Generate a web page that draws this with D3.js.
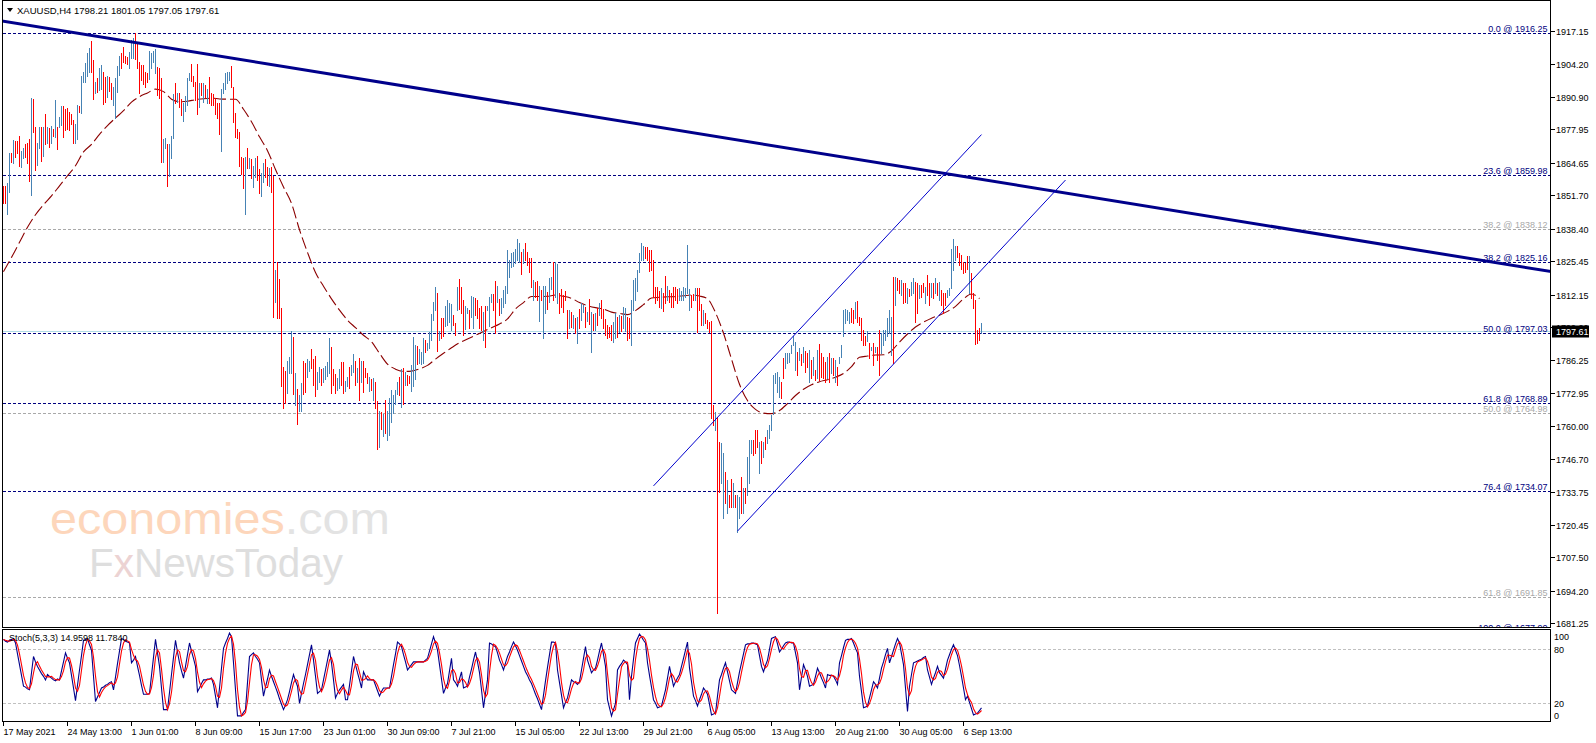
<!DOCTYPE html>
<html><head><meta charset="utf-8">
<script src="https://cdn.jsdelivr.net/npm/d3@7/dist/d3.min.js"></script>
<style>
html,body{margin:0;padding:0;background:#fff;}
svg{display:block;}
text{font-family:"Liberation Sans",Arial,sans-serif;}
</style></head><body>
<svg id="chart" width="1596" height="743"></svg>
<script>
// ---------------- DATA ----------------
const symbolTitle = "XAUUSD,H4  1798.21 1801.05 1797.05 1797.61";
const stochTitle = "Stoch(5,3,3) 14.9598 11.7840";

const highs = [
1855.4,1855.4,1856.5,1868.4,1868.4,1873.8,1873.5,1873.4,1875.4,1869.4,
1870.7,1872.2,1872.7,1874.0,1890.4,1890.1,1878.8,1872.7,1879.1,1879.1,
1878.8,1884.1,1878.8,1878.4,1879.3,1878.0,1889.7,1878.8,1882.8,1887.3,
1887.3,1886.0,1886.4,1885.0,1884.1,1881.7,1880.1,1887.7,1887.3,1899.2,
1900.7,1904.6,1908.3,1910.5,1913.2,1905.6,1897.0,1898.3,1902.3,1903.6,
1901.0,1898.7,1899.2,1899.0,1896.3,1895.0,1898.3,1903.2,1907.2,1908.3,
1910.9,1907.2,1906.9,1908.7,1913.6,1914.3,1916.2,1912.9,1905.0,1903.6,
1903.6,1901.0,1900.3,1909.0,1908.3,1909.0,1909.9,1903.0,1902.3,1898.3,
1874.0,1874.4,1872.2,1872.2,1875.4,1892.0,1896.6,1892.6,1892.6,1890.0,
1888.6,1891.3,1898.6,1900.3,1903.9,1899.2,1897.0,1903.9,1896.6,1896.3,
1896.3,1895.7,1894.1,1899.0,1892.4,1892.1,1890.4,1888.6,1888.4,1894.1,
1896.3,1900.3,1901.0,1901.0,1903.4,1895.0,1884.6,1878.2,1877.1,1866.9,
1866.5,1867.1,1870.4,1866.7,1866.0,1863.5,1866.5,1867.5,1862.0,1860.5,
1864.5,1866.0,1863.0,1862.5,1863.0,1859.5,1822.0,1825.3,1818.4,1806.8,
1783.5,1781.9,1785.8,1787.5,1797.5,1795.1,1781.1,1774.5,1772.2,1777.1,
1785.8,1785.1,1786.6,1785.9,1790.4,1786.4,1787.9,1781.5,1783.3,1782.5,
1782.9,1783.9,1785.5,1794.8,1791.5,1782.5,1780.5,1778.9,1782.6,1785.5,
1785.3,1777.8,1779.5,1783.5,1784.2,1788.6,1785.8,1783.1,1787.1,1785.8,
1785.8,1782.9,1780.9,1779.5,1778.5,1778.9,1777.5,1770.0,1766.0,1765.6,
1764.7,1770.2,1766.0,1770.9,1774.2,1772.2,1774.2,1777.5,1779.2,1782.5,
1782.9,1781.5,1780.2,1779.8,1784.2,1795.4,1792.1,1791.9,1790.4,1789.5,
1794.8,1794.1,1792.8,1797.1,1804.5,1809.4,1815.1,1813.0,1797.7,1802.8,
1802.8,1807.7,1810.1,1808.7,1808.5,1804.1,1800.8,1815.1,1818.3,1815.1,
1810.1,1807.7,1806.8,1806.1,1811.7,1811.4,1810.7,1810.1,1806.9,1807.7,
1805.4,1807.7,1807.7,1811.4,1812.5,1812.3,1817.4,1815.7,1810.3,1810.7,
1814.0,1815.6,1830.0,1826.0,1828.6,1829.3,1830.2,1834.2,1832.6,1829.3,
1830.2,1832.6,1829.0,1826.6,1826.6,1818.0,1817.3,1817.7,1815.7,1814.0,
1815.6,1815.6,1813.4,1818.7,1819.3,1825.3,1825.3,1824.4,1812.7,1814.3,
1812.0,1813.8,1806.1,1806.1,1805.4,1804.1,1802.7,1803.4,1806.5,1808.7,
1808.0,1807.4,1805.4,1810.3,1805.4,1804.5,1804.7,1806.7,1808.7,1810.0,
1806.3,1802.5,1800.1,1799.4,1800.1,1801.4,1804.7,1803.4,1804.1,1803.7,
1807.4,1806.7,1803.4,1802.7,1810.0,1818.0,1818.7,1822.0,1828.9,1832.6,
1831.5,1831.3,1831.3,1830.0,1830.0,1826.0,1815.1,1815.3,1813.8,1814.7,
1812.7,1819.6,1815.6,1814.0,1813.0,1815.3,1815.1,1814.3,1814.7,1813.8,
1815.1,1814.7,1832.0,1814.3,1812.0,1812.4,1814.7,1814.7,1814.7,1808.4,
1806.1,1804.7,1802.1,1801.4,1801.8,1768.2,1765.6,1763.6,1753.6,1753.0,
1749.0,1741.7,1738.4,1732.4,1738.6,1737.0,1732.4,1732.4,1731.7,1739.7,
1735.0,1735.0,1747.6,1754.3,1754.3,1754.3,1758.3,1758.3,1753.6,1754.0,
1753.6,1755.6,1758.3,1760.3,1764.2,1780.2,1780.8,1781.5,1779.5,1777.5,
1786.8,1788.8,1788.8,1789.1,1792.1,1795.7,1793.4,1789.5,1790.8,1788.5,
1791.5,1789.9,1788.8,1790.1,1786.1,1787.5,1782.2,1790.1,1792.5,1788.8,
1787.5,1785.5,1787.5,1788.8,1786.8,1786.8,1786.1,1783.5,1787.2,1792.1,
1806.1,1806.3,1806.1,1805.4,1806.7,1806.1,1809.4,1809.6,1803.4,1802.7,
1798.1,1795.5,1797.8,1792.8,1791.5,1792.8,1791.2,1791.5,1798.1,1796.8,
1798.1,1798.1,1802.7,1806.1,1803.4,1819.3,1819.3,1818.7,1818.0,1818.0,
1816.7,1816.7,1814.7,1814.3,1817.3,1818.7,1817.3,1816.7,1816.0,1816.0,
1816.7,1815.4,1820.0,1816.7,1816.7,1816.7,1818.7,1816.7,1817.3,1814.0,
1812.7,1812.7,1814.0,1814.7,1830.5,1834.3,1831.5,1831.5,1828.6,1828.0,
1825.3,1824.9,1827.5,1827.5,1820.9,1812.7,1810.0,1798.1,1798.8,1801.05
];

const lows = [
1848.5,1848.5,1844.2,1852.9,1865.1,1864.7,1867.1,1868.4,1863.4,1863.1,
1866.7,1867.1,1864.5,1857.4,1851.9,1877.0,1861.8,1863.8,1870.4,1865.5,
1867.4,1872.2,1872.4,1870.8,1872.7,1875.5,1875.1,1870.3,1879.1,1879.6,
1875.1,1877.7,1878.0,1877.7,1880.1,1872.7,1872.7,1874.2,1885.0,1884.6,
1897.0,1897.0,1899.2,1900.7,1900.7,1890.1,1892.6,1893.0,1893.7,1894.1,
1888.1,1889.0,1890.8,1893.3,1890.1,1887.7,1882.6,1893.0,1899.6,1902.6,
1904.7,1904.3,1904.0,1902.6,1906.3,1906.3,1905.9,1902.3,1892.6,1897.7,
1896.1,1895.0,1897.0,1897.9,1902.3,1905.0,1900.3,1891.7,1890.4,1865.1,
1865.1,1870.4,1855.6,1859.5,1866.5,1874.4,1888.4,1889.0,1887.0,1883.7,
1881.5,1885.4,1887.7,1897.7,1897.4,1895.4,1889.7,1884.0,1887.0,1891.7,
1889.0,1891.0,1888.4,1888.4,1887.7,1887.7,1884.1,1882.4,1876.2,1869.5,
1892.6,1894.0,1896.3,1897.7,1895.0,1881.0,1875.1,1874.4,1863.4,1860.2,
1854.5,1844.3,1862.5,1862.5,1858.5,1855.0,1859.0,1858.0,1852.5,1851.5,
1857.0,1859.0,1856.0,1855.5,1853.0,1803.4,1809.4,1802.8,1802.8,1775.6,
1766.9,1768.9,1772.9,1781.1,1780.9,1772.5,1768.3,1760.6,1766.0,1766.0,
1772.5,1773.3,1779.5,1781.9,1782.9,1776.2,1772.0,1774.6,1777.2,1776.0,
1777.2,1778.5,1779.8,1780.9,1772.9,1776.2,1772.9,1774.2,1774.9,1776.2,
1772.9,1773.6,1775.6,1774.9,1780.2,1781.5,1776.2,1777.2,1770.2,1777.5,
1773.2,1779.5,1776.9,1773.6,1774.2,1770.2,1766.9,1750.6,1751.4,1758.6,
1756.0,1756.9,1754.3,1756.3,1761.6,1764.9,1768.7,1772.6,1772.2,1767.6,
1768.7,1776.2,1776.2,1776.9,1773.9,1775.6,1778.6,1784.4,1784.9,1784.4,
1784.9,1789.5,1790.2,1790.8,1794.1,1802.1,1806.1,1789.9,1794.1,1794.8,
1795.5,1799.5,1800.1,1801.4,1798.1,1800.1,1796.1,1806.1,1806.4,1804.8,
1796.1,1798.4,1804.8,1798.8,1803.4,1798.8,1804.1,1802.8,1798.8,1798.1,
1794.1,1791.5,1806.1,1799.5,1809.4,1806.0,1796.8,1809.4,1804.0,1805.0,
1807.1,1809.0,1812.7,1819.3,1823.3,1823.6,1824.9,1826.0,1825.3,1820.4,
1824.9,1826.0,1824.0,1821.0,1815.3,1810.0,1811.4,1810.0,1801.8,1810.0,
1794.8,1804.7,1806.6,1809.4,1814.3,1810.0,1811.4,1808.7,1804.7,1807.4,
1805.4,1810.0,1794.8,1798.8,1799.4,1798.8,1796.8,1792.8,1798.8,1802.1,
1805.4,1799.4,1801.8,1800.5,1789.5,1798.1,1798.1,1800.1,1804.1,1802.7,
1798.8,1796.1,1794.8,1795.4,1794.1,1793.4,1794.8,1795.4,1797.4,1797.8,
1798.8,1797.8,1794.1,1794.8,1792.1,1806.1,1810.0,1813.8,1821.3,1826.0,
1826.0,1826.6,1826.0,1821.7,1822.0,1811.4,1808.7,1810.0,1807.1,1806.7,
1805.8,1808.7,1810.0,1809.4,1807.4,1807.4,1810.0,1808.7,1810.0,1810.0,
1810.0,1811.4,1812.7,1806.1,1807.4,1810.0,1810.0,1797.4,1806.1,1800.1,
1800.1,1800.7,1798.8,1797.4,1762.9,1760.3,1758.3,1685.5,1733.7,1737.0,
1723.1,1729.1,1725.1,1727.7,1727.7,1727.7,1727.7,1717.8,1723.1,1725.1,
1725.1,1729.1,1732.4,1737.0,1749.0,1748.3,1749.0,1751.6,1741.3,1745.0,
1747.4,1750.6,1753.0,1755.0,1758.3,1764.6,1776.9,1773.5,1771.5,1770.9,
1778.8,1782.8,1784.8,1785.5,1788.8,1792.1,1782.2,1780.2,1786.1,1784.1,
1785.5,1781.5,1783.5,1777.5,1778.8,1780.2,1778.2,1778.8,1778.2,1779.5,
1778.8,1777.5,1778.8,1777.5,1780.8,1780.2,1777.5,1776.2,1784.8,1787.5,
1795.5,1801.0,1802.1,1800.8,1801.4,1801.0,1802.7,1801.4,1800.1,1794.1,
1792.1,1792.1,1793.8,1786.8,1790.1,1784.1,1789.5,1786.1,1780.2,1788.8,
1792.1,1794.1,1795.5,1796.8,1788.1,1784.8,1808.0,1814.0,1812.7,1812.0,
1808.7,1809.4,1808.7,1811.6,1812.0,1812.7,1801.4,1804.7,1810.7,1811.4,
1813.4,1808.7,1812.0,1808.0,1811.4,1810.7,1812.7,1812.0,1810.0,1808.0,
1804.7,1808.0,1811.4,1812.0,1814.7,1822.0,1826.0,1827.3,1824.0,1822.2,
1820.9,1821.3,1822.2,1812.7,1810.7,1806.7,1792.5,1793.0,1794.1,1797.05
];

// bar direction (u = close above open, d = close below open), groups of 10
const barDirection = (
"dduududddu udddudduud ududududuu dddddduudu uuuudduduu " +
"ddudduuuud ddduuudddd ddduuuuddd uuduuududd uuuuddddud " +
"ududdddddu uuuudddddd dududuuddu uddudduddd dduuududuu " +
"dduuddduud uuuuddduud duuduududu dddududdud uduuuuuudu " +
"dudduuuduu uduuuuudud duuuudduddd uuduuddddu duuudduduu " +
"uuuuuuuudu dddduddudu uduuduuddd ddudududuu dududududd " +
"dddduududu udduuuuuuu ddddddddud duddddduuu uuuddudddu " +
"dddddudduu dudduduudu duuudddudu duuuuuuudd uuuuuududu " +
"ddudududdd dudududuuu uuuddudddd dudududduu uuuududdud " +
"duduuddudd uddudududd duuuuudddd ddudddddud").replace(/ /g,"").split("");

// moving average, sampled every 4 bars
const maStep = 4;
const maValues = [
1821.3,1827.0,1833.0,1839.0,1844.0,1848.0,1851.5,1855.5,1859.5,1863.5,
1869.0,1872.0,1876.0,1879.5,1882.5,1885.4,1888.8,1891.0,1892.5,1894.0,
1893.0,1890.0,1889.0,1889.2,1889.8,1890.2,1890.4,1890.1,1890.0,1890.0,
1886.0,1881.0,1875.0,1869.5,1862.0,1855.0,1848.5,1838.0,1829.0,1821.0,
1815.5,1810.5,1806.0,1802.0,1799.0,1796.0,1793.4,1788.8,1784.5,1782.5,
1781.6,1781.7,1782.6,1784.0,1786.5,1788.8,1791.0,1793.0,1794.5,1796.0,
1797.5,1799.0,1800.5,1802.5,1806.5,1809.0,1811.4,1811.4,1811.5,1812.0,
1811.5,1810.7,1809.0,1807.8,1807.0,1806.4,1805.2,1804.7,1804.2,1805.8,
1808.2,1810.8,1811.1,1811.3,1811.4,1811.7,1812.0,1811.6,1810.5,1805.0,
1796.8,1786.5,1776.5,1770.0,1766.5,1765.0,1764.8,1766.0,1768.8,1772.0,
1774.5,1776.3,1777.5,1778.3,1779.3,1780.8,1783.5,1787.2,1787.7,1788.1,
1788.2,1789.8,1793.3,1796.5,1799.3,1801.2,1802.8,1804.0,1805.5,1807.5,
1810.5,1812.4,1810.6
];

// stochastic main line (%K), one value per bar
const stochMain = [
91,89,88,90,91,92,87,75,63,51, 39,38,36,35,54,72,66,61,57,53,
50,46,52,50,48,46,45,47,46,56, 66,76,70,65,51,37,23,40,57,73,
90,91,92,85,79,50,22,27,32,37, 38,40,41,43,44,35,49,64,78,92,
91,89,88,87,65,68,72,61,51,40, 30,30,30,31,51,71,91,76,61,37,
13,13,13,32,52,71,90,77,65,56, 48,61,74,87,78,70,61,33,37,42,
46,46,47,47,48,41,28,15,37,59, 81,87,92,98,94,65,35,6,6,6,
10,13,43,72,74,76,72,69,65,46, 28,38,47,57,50,44,38,32,25,19,
13,18,24,33,43,52,45,39,20,31, 42,52,63,74,85,68,50,31,33,35,
46,57,68,79,65,46,26,31,35,38, 41,24,24,40,56,72,63,54,46,37,
55,50,46,46,46,46,40,34,28,33, 37,37,37,37,50,63,75,88,86,83,
74,66,57,60,63,66,66,66,66,66, 66,68,70,78,86,94,87,79,63,47,
31,37,42,56,70,46,43,39,47,55, 37,38,39,49,58,68,77,66,54,35,
15,31,46,87,86,84,83,76,68,63, 57,65,72,77,83,88,84,79,73,67,
61,55,51,46,42,36,30,25,19,13, 29,45,60,74,88,88,87,57,43,29,
15,21,26,36,46,44,43,41,44,57, 70,83,68,61,54,57,59,68,78,87,
74,61,24,15,6,13,20,57,61,64, 68,66,63,24,50,69,87,92,97,94,
90,87,65,51,38,24,20,15,16,17, 26,35,48,61,50,39,44,48,52,61,
70,79,88,59,44,28,23,17,24,30, 37,34,30,19,7,8,9,28,46,52,
59,65,55,45,35,33,31,43,55,65, 75,85,86,86,87,87,86,85,73,61,
55,62,68,80,92,93,94,86,77,80, 84,87,88,88,87,87,76,65,35,49,
63,57,50,39,40,41,50,59,54,48, 43,37,52,51,51,50,46,41,65,73,
82,90,91,91,92,87,81,76,50,33, 15,16,17,26,35,44,41,37,48,59,
66,74,81,65,72,79,86,92,87,75, 63,37,11,39,52,65,66,67,68,69,
71,72,57,49,41,48,54,61,54,51, 48,58,68,74,80,85,79,73,62,50,
37,24,28,21,14,7,8,9,12,15
];
const stochSignalPeriod = 3;
const stochLevels = [80, 20];
const stochAxisLabels = [100, 80, 20, 0];

// price axis ticks
const priceTicks = [1917.15,1904.20,1890.90,1877.95,1864.65,1851.70,1838.40,1825.45,1812.15,
  1799.20,1786.25,1772.95,1760.00,1746.70,1733.75,1720.45,1707.50,1694.20,1681.25];
const bidPrice = 1797.61;

// time axis labels (one every 32 bars)
const timeLabelStep = 32;
const timeLabels = ["17 May 2021","24 May 13:00","1 Jun 01:00","8 Jun 09:00","15 Jun 17:00",
  "23 Jun 01:00","30 Jun 09:00","7 Jul 21:00","15 Jul 05:00","22 Jul 13:00","29 Jul 21:00",
  "6 Aug 05:00","13 Aug 13:00","20 Aug 21:00","30 Aug 05:00","6 Sep 13:00"];

// Fibonacci retracements
const fibLevels = [0, 23.6, 38.2, 50, 61.8, 76.4, 100];
const fibPrices = [1916.25, 1859.98, 1825.16, 1797.03, 1768.89, 1734.07, 1677.90];
const fib2Levels = [38.2, 50, 61.8];
const fib2Prices = [1838.12, 1764.98, 1691.85];

// trend line and channel (bar index, price)
const trendBars = [0, 700];
const trendPrices = [1921.06, 1830.85];
const chanUpperBars = [325, 489];
const chanUpperPrices = [1736.0, 1875.9];
const chanLowerBars = [367, 531];
const chanLowerPrices = [1718.0, 1857.8];

// ---------------- DRAWING ----------------
const svg = d3.select("#chart");
const W = 1596;
const plotL = 2.5, plotR = 1550.5, priceTop = 0.5, priceBot = 627.5, stochTop = 629.5, stochBot = 721.5;

const x = d3.scaleLinear().domain([0, 1]).range([3.5, 5.5]);
const y = d3.scaleLinear().domain([1681.25, 1917.15]).range([623.4, 31.0]);
const ys = d3.scaleLinear().domain([0, 100]).range([721.3, 631.3]);

const defs = svg.append("defs");
defs.append("clipPath").attr("id","clipP").append("rect")
  .attr("x", plotL).attr("y", priceTop).attr("width", plotR - plotL).attr("height", priceBot - priceTop);
defs.append("clipPath").attr("id","clipS").append("rect")
  .attr("x", plotL).attr("y", stochTop).attr("width", plotR - plotL).attr("height", stochBot - stochTop);

svg.append("rect").attr("width", W).attr("height", 743).attr("fill", "#fff");

// watermark
const wm = svg.append("g");
const t1 = wm.append("text").attr("x", 50).attr("y", 534).attr("font-size", 44)
  .attr("textLength", 340).attr("lengthAdjust", "spacingAndGlyphs");
t1.append("tspan").attr("fill", "#fdd6bb").text("economies");
t1.append("tspan").attr("fill", "#e3e3e3").text(".com");
const t2 = wm.append("text").attr("x", 89).attr("y", 577).attr("font-size", 41)
  .attr("textLength", 254).attr("lengthAdjust", "spacingAndGlyphs");
t2.append("tspan").attr("fill", "#dedede").text("F");
t2.append("tspan").attr("fill", "#ecd3d3").text("x");
t2.append("tspan").attr("fill", "#dedede").text("NewsToday");

const gP = svg.append("g").attr("clip-path", "url(#clipP)");

// fib lines
const fibFmt = (l, p) => `${l.toFixed(1)} @ ${p.toFixed(2)}`;
function drawFib(levels, prices, color) {
  prices.forEach((p, k) => {
    const yy = Math.round(y(p)) + 0.5;
    gP.append("line").attr("x1", plotL).attr("x2", plotR).attr("y1", yy).attr("y2", yy)
      .attr("stroke", color).attr("stroke-dasharray", "3,2").attr("shape-rendering", "crispEdges");
    gP.append("text").attr("x", plotR - 3).attr("y", yy - 2).attr("text-anchor", "end")
      .attr("font-size", 9).attr("fill", color).text(fibFmt(levels[k], p));
  });
}
drawFib(fib2Levels, fib2Prices, "#a9a9a9");

// bid line
gP.append("line").attr("x1", plotL).attr("x2", plotR)
  .attr("y1", Math.round(y(bidPrice)) + 0.5).attr("y2", Math.round(y(bidPrice)) + 0.5)
  .attr("stroke", "#b0dbe6").attr("shape-rendering", "crispEdges");

drawFib(fibLevels, fibPrices, "#000080");

// moving average
gP.append("path").datum(maValues)
  .attr("d", d3.line().x((d, j) => x(j * maStep)).y(d => y(d)).curve(d3.curveMonotoneX))
  .attr("fill", "none").attr("stroke", "#8b0000").attr("stroke-width", 1.1).attr("stroke-dasharray", "12,4");

// bars
gP.append("g").attr("shape-rendering", "crispEdges").selectAll("line").data(highs).join("line")
  .attr("x1", (d, i) => x(i)).attr("x2", (d, i) => x(i))
  .attr("y1", d => Math.round(y(d))).attr("y2", (d, i) => Math.round(y(lows[i])) + 1)
  .attr("stroke", (d, i) => barDirection[i] === "u" ? "#4682b4" : "#ff0000");

// trend line (extended across the chart)
function extLine(bars, prices, b0, b1) {
  const slope = (prices[1] - prices[0]) / (bars[1] - bars[0]);
  return [[b0, prices[0] + slope * (b0 - bars[0])], [b1, prices[0] + slope * (b1 - bars[0])]];
}
const tl = extLine(trendBars, trendPrices, -2, 775);
gP.append("line").attr("x1", x(tl[0][0])).attr("y1", y(tl[0][1])).attr("x2", x(tl[1][0])).attr("y2", y(tl[1][1]))
  .attr("stroke", "#00008b").attr("stroke-width", 3);
// channel
[[chanUpperBars, chanUpperPrices], [chanLowerBars, chanLowerPrices]].forEach(([b, p]) => {
  gP.append("line").attr("x1", x(b[0])).attr("y1", y(p[0])).attr("x2", x(b[1])).attr("y2", y(p[1]))
    .attr("stroke", "#0000cd").attr("stroke-width", 1);
});

// title
svg.append("path").attr("d", "M7,8 L13,8 L10,12 Z").attr("fill", "#000");
svg.append("text").attr("x", 17).attr("y", 14).attr("font-size", 9.5).attr("fill", "#000").text(symbolTitle);

// price axis
const gA = svg.append("g");
priceTicks.forEach(t => {
  const yy = Math.round(y(t)) + 0.5;
  gA.append("line").attr("x1", plotR).attr("x2", plotR + 4).attr("y1", yy).attr("y2", yy)
    .attr("stroke", "#000").attr("shape-rendering", "crispEdges");
  gA.append("text").attr("x", 1556).attr("y", yy + 3.2).attr("font-size", 9).attr("fill", "#000").text(t.toFixed(2));
});
// bid label
const by = y(bidPrice);
gA.append("rect").attr("x", 1552).attr("y", Math.round(by) - 5.5).attr("width", 37).attr("height", 12).attr("fill", "#000");
gA.append("text").attr("x", 1556).attr("y", Math.round(by) + 4).attr("font-size", 9).attr("fill", "#fff").text(bidPrice.toFixed(2));

// stochastic panel
const gS = svg.append("g").attr("clip-path", "url(#clipS)");
stochLevels.forEach(l => {
  const yy = Math.round(ys(l)) + 0.5;
  gS.append("line").attr("x1", plotL).attr("x2", plotR).attr("y1", yy).attr("y2", yy)
    .attr("stroke", "#c0c0c0").attr("stroke-dasharray", "3,2").attr("shape-rendering", "crispEdges");
});
const stochSignal = stochMain.map((v, i) => {
  const s = stochMain.slice(Math.max(0, i - stochSignalPeriod + 1), i + 1);
  return d3.mean(s);
});
const sLine = d3.line().x((d, i) => x(i)).y(d => ys(d));
gS.append("path").datum(stochMain).attr("d", sLine).attr("fill", "none").attr("stroke", "#00008b").attr("stroke-width", 1.1);
gS.append("path").datum(stochSignal).attr("d", sLine).attr("fill", "none").attr("stroke", "#ff0000").attr("stroke-width", 1.1);
svg.append("text").attr("x", 9).attr("y", 641).attr("font-size", 9).attr("fill", "#000").text(stochTitle);

stochAxisLabels.forEach(v => {
  let yy = ys(v);
  if (v === 100) yy += 5;
  if (v === 0) yy -= 6;
  svg.append("text").attr("x", 1554).attr("y", yy + 3.2).attr("font-size", 9).attr("fill", "#000").text(v);
});

// frames
const fr = svg.append("g").attr("fill", "none").attr("stroke", "#000").attr("shape-rendering", "crispEdges");
fr.append("rect").attr("x", plotL).attr("y", priceTop).attr("width", plotR - plotL).attr("height", priceBot - priceTop);
fr.append("rect").attr("x", plotL).attr("y", stochTop).attr("width", plotR - plotL).attr("height", stochBot - stochTop);

// time axis
timeLabels.forEach((lab, k) => {
  const xx = x(k * timeLabelStep);
  svg.append("line").attr("x1", xx).attr("x2", xx).attr("y1", stochBot).attr("y2", stochBot + 4)
    .attr("stroke", "#000").attr("shape-rendering", "crispEdges");
  svg.append("text").attr("x", xx).attr("y", 734.5).attr("font-size", 9).attr("fill", "#000").text(lab);
});
</script></body></html>
